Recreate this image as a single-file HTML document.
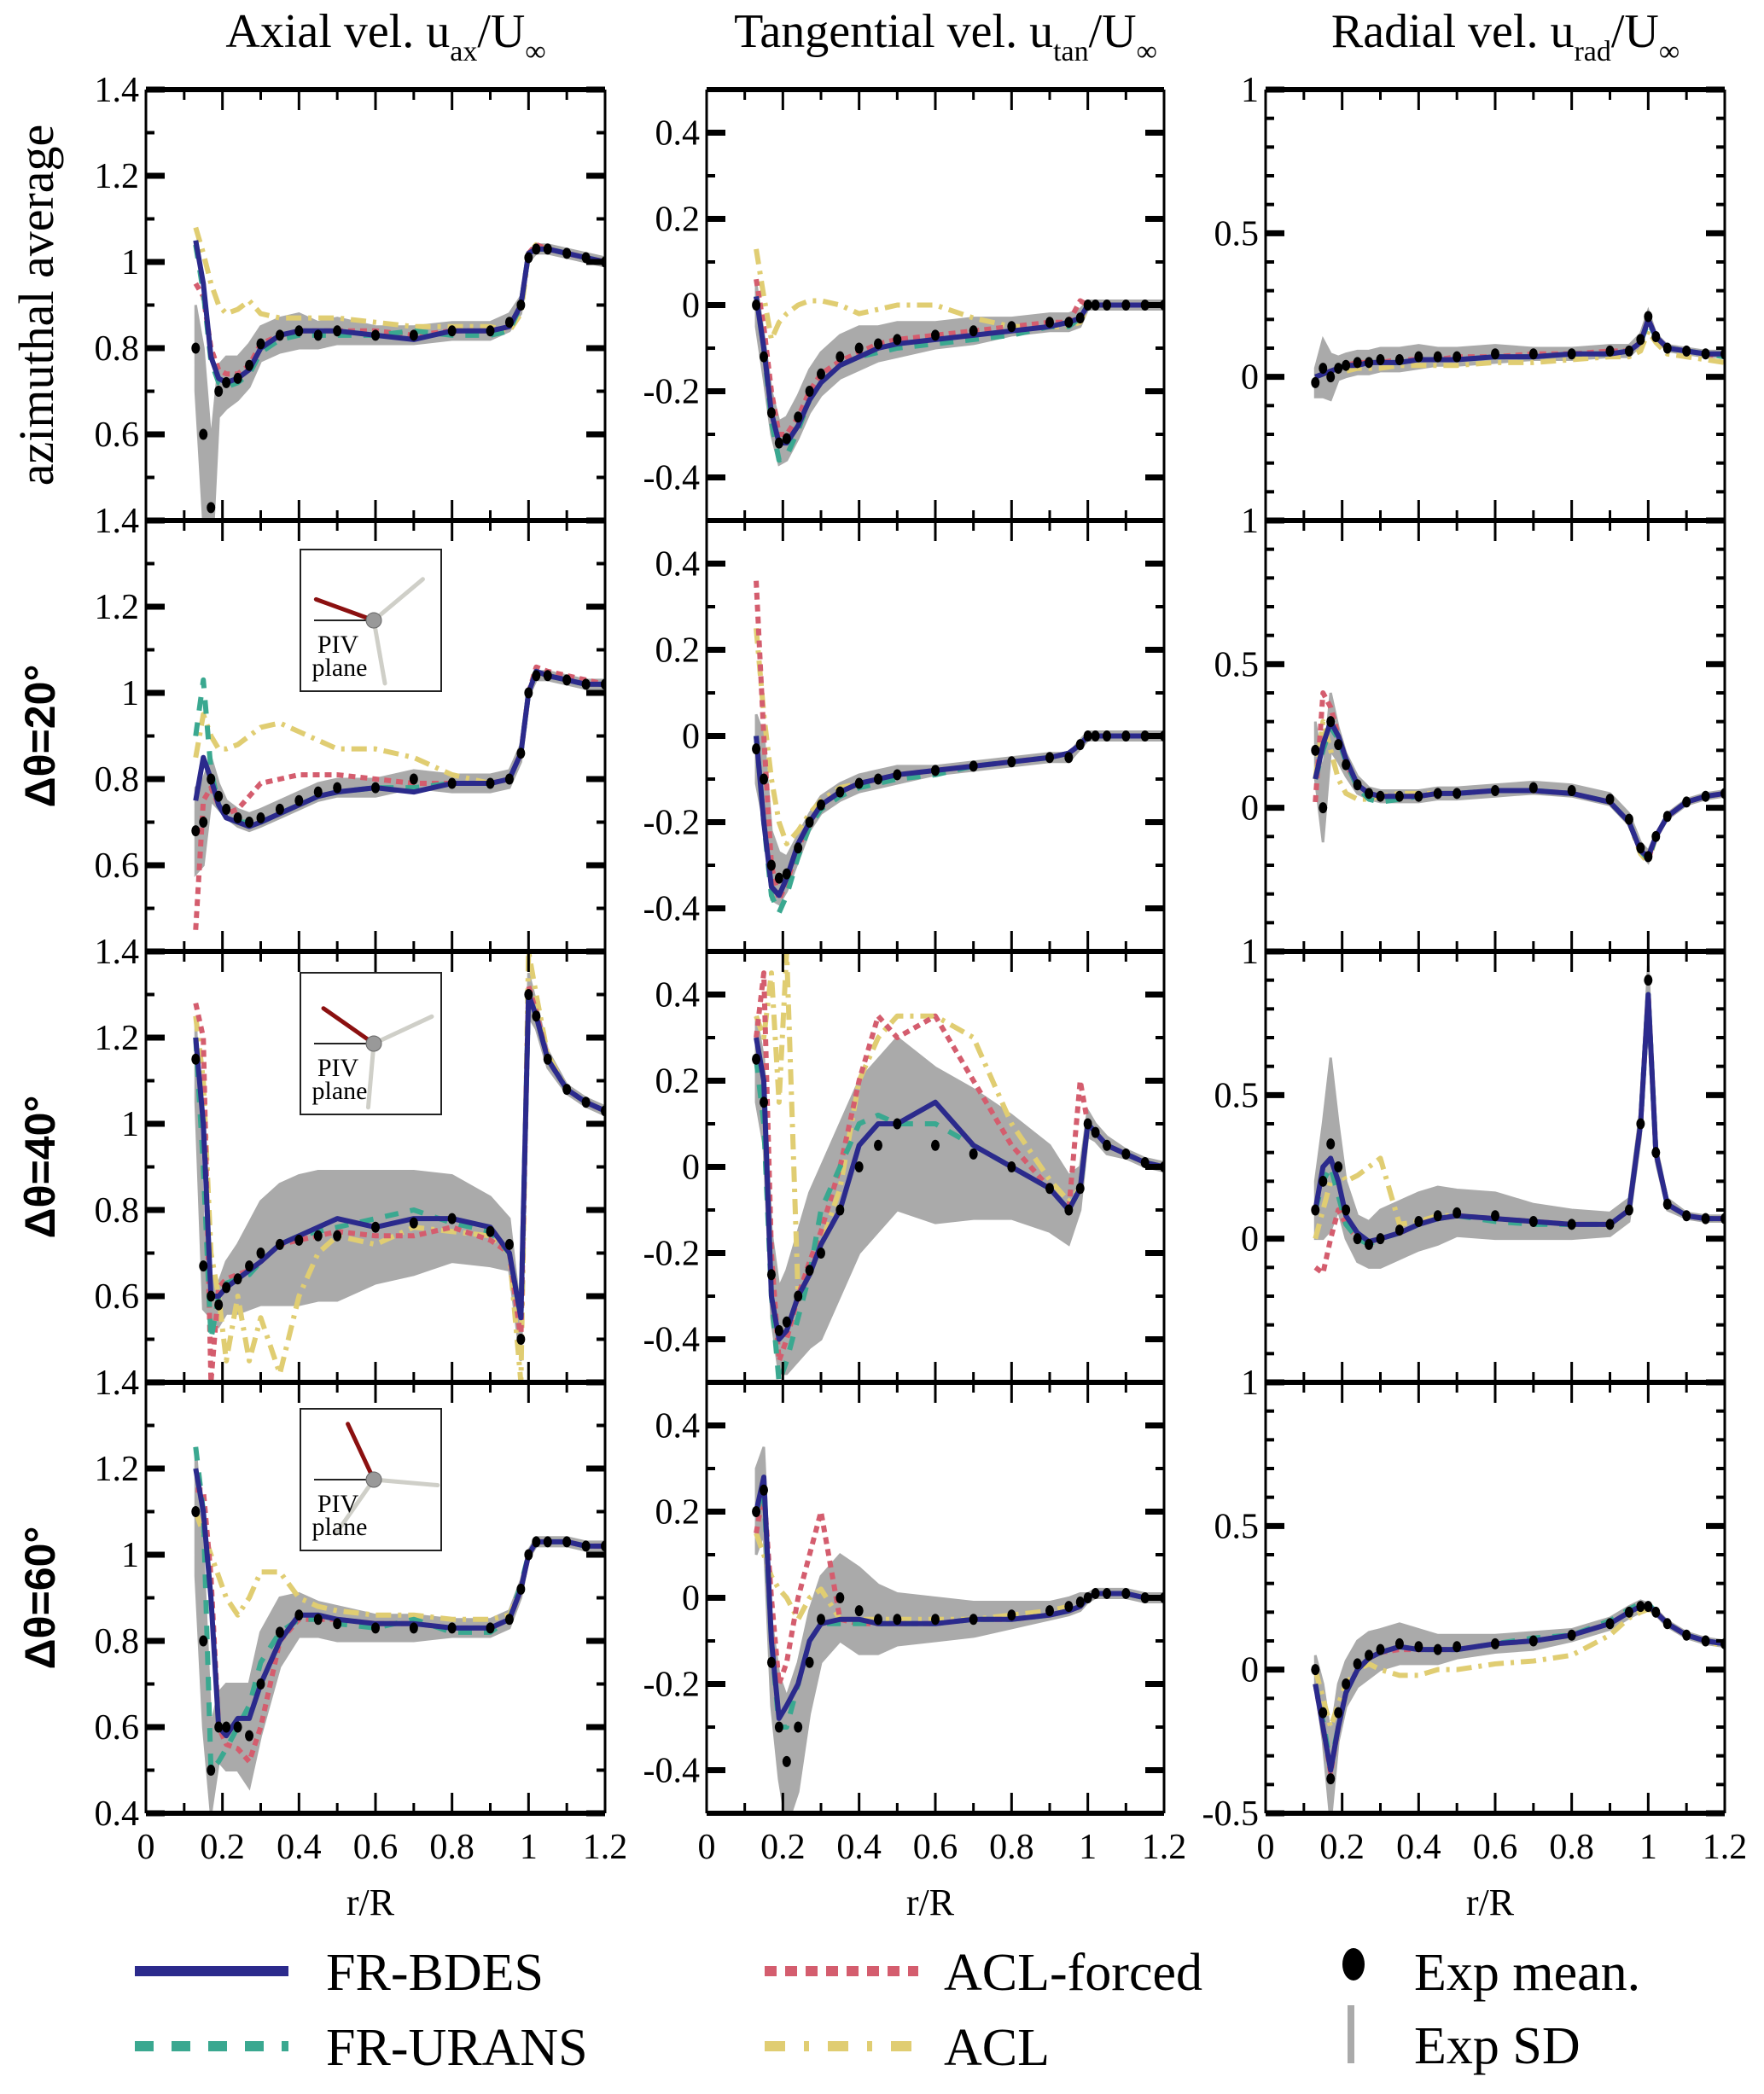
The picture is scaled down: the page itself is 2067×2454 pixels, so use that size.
<!DOCTYPE html>
<html><head><meta charset="utf-8"><style>
body{margin:0;background:#fff}
svg{display:block}
text{font-family:"Liberation Serif",serif}
</style></head><body>
<svg id="fig" xmlns="http://www.w3.org/2000/svg" width="2067" height="2454" viewBox="0 0 2067 2454"></svg>
<script>
// ---------- data ----------
const rGrid=[0.13,0.15,0.17,0.19,0.21,0.24,0.27,0.3,0.35,0.4,0.45,0.5,0.6,0.7,0.8,0.9,0.95,0.98,1.0,1.02,1.05,1.1,1.15,1.2];
const xTicks=[0,0.2,0.4,0.6,0.8,1,1.2];
const xTickLabels=["0","0.2","0.4","0.6","0.8","1","1.2"];
const axTicks=[0.4,0.6,0.8,1,1.2,1.4];
const axTickLabels=["0.4","0.6","0.8","1","1.2","1.4"];
const tanTicks=[-0.4,-0.2,0,0.2,0.4];
const tanTickLabels=["-0.4","-0.2","0","0.2","0.4"];
const radTicks=[-0.5,0,0.5,1];
const radTickLabels=["-0.5","0","0.5","1"];
const columnTitles=["Axial vel. u","Tangential vel. u","Radial vel. u"];
const columnSubs=["ax","tan","rad"];
const rowLabels=["azimuthal average","\u0394\u03b8=20\u00b0","\u0394\u03b8=40\u00b0","\u0394\u03b8=60\u00b0"];
const seriesNames=["FR-BDES","FR-URANS","ACL-forced","ACL"];

// row 1 azimuthal average
const ax1_bdes=[1.05,0.95,0.78,0.73,0.72,0.73,0.75,0.8,0.83,0.84,0.84,0.84,0.83,0.82,0.84,0.84,0.85,0.9,1.02,1.03,1.03,1.02,1.01,1.0];
const ax1_urans=[1.04,0.93,0.77,0.72,0.71,0.72,0.74,0.79,0.82,0.83,0.83,0.83,0.83,0.84,0.83,0.83,0.84,0.9,1.02,1.03,1.03,1.02,1.01,1.0];
const ax1_aclf=[0.95,0.92,0.8,0.75,0.74,0.74,0.76,0.81,0.83,0.84,0.84,0.84,0.84,0.83,0.84,0.84,0.85,0.9,1.02,1.04,1.03,1.02,1.01,1.0];
const ax1_acl=[1.08,1.02,0.95,0.9,0.88,0.89,0.91,0.88,0.87,0.87,0.87,0.87,0.86,0.85,0.85,0.85,0.84,0.88,1.02,1.04,1.03,1.02,1.01,1.0];
const ax1_exp=[0.8,0.6,0.43,0.7,0.72,0.73,0.76,0.81,0.83,0.84,0.83,0.84,0.83,0.83,0.84,0.84,0.86,0.9,1.01,1.03,1.03,1.02,1.01,1.0];
const ax1_sd=[0.1,0.2,0.15,0.06,0.06,0.05,0.05,0.04,0.04,0.04,0.03,0.03,0.02,0.02,0.02,0.02,0.02,0.02,0.01,0.01,0.01,0.01,0.01,0.01];
const tn1_bdes=[0.02,-0.1,-0.25,-0.32,-0.32,-0.28,-0.22,-0.18,-0.14,-0.12,-0.1,-0.09,-0.08,-0.07,-0.06,-0.05,-0.04,-0.03,0,0,0,0,0,0];
const tn1_urans=[0.02,-0.1,-0.27,-0.36,-0.35,-0.29,-0.22,-0.18,-0.14,-0.12,-0.11,-0.1,-0.09,-0.08,-0.07,-0.05,-0.05,-0.03,0,0,0,0,0,0];
const tn1_aclf=[0.06,-0.05,-0.2,-0.3,-0.3,-0.26,-0.2,-0.16,-0.13,-0.11,-0.09,-0.08,-0.07,-0.06,-0.05,-0.04,-0.04,0.01,0,0,0,0,0,0];
const tn1_acl=[0.13,0.02,-0.08,-0.04,-0.02,0.0,0.01,0.01,0.0,-0.02,-0.01,0.0,0.0,-0.03,-0.05,-0.05,-0.05,-0.04,0,0,0,0,0,0];
const tn1_exp=[0.0,-0.12,-0.25,-0.32,-0.31,-0.26,-0.2,-0.16,-0.12,-0.1,-0.09,-0.08,-0.07,-0.06,-0.05,-0.04,-0.04,-0.03,0,0,0,0,0,0];
const tn1_sd=[0.05,0.05,0.05,0.05,0.05,0.05,0.05,0.05,0.05,0.05,0.04,0.04,0.03,0.03,0.02,0.02,0.02,0.02,0.01,0.01,0.01,0.01,0.01,0.01];
const rd1_bdes=[0,0.01,0.02,0.03,0.04,0.04,0.05,0.05,0.05,0.06,0.06,0.06,0.07,0.07,0.08,0.08,0.09,0.12,0.2,0.14,0.1,0.09,0.08,0.08];
const rd1_urans=[0,0.01,0.02,0.03,0.04,0.04,0.05,0.05,0.05,0.06,0.06,0.06,0.07,0.07,0.08,0.08,0.09,0.12,0.19,0.14,0.1,0.09,0.08,0.07];
const rd1_aclf=[0,0.01,0.02,0.03,0.04,0.05,0.05,0.05,0.06,0.06,0.06,0.07,0.07,0.08,0.08,0.09,0.09,0.12,0.2,0.14,0.1,0.09,0.08,0.07];
const rd1_acl=[0.0,0.01,0.01,0.02,0.02,0.03,0.03,0.03,0.04,0.04,0.04,0.04,0.05,0.05,0.06,0.07,0.07,0.09,0.16,0.12,0.08,0.07,0.06,0.05];
const rd1_exp=[-0.02,0.03,0.0,0.03,0.04,0.05,0.05,0.06,0.06,0.07,0.07,0.07,0.08,0.08,0.08,0.09,0.09,0.13,0.21,0.14,0.1,0.09,0.08,0.08];
const rd1_sd=[0.05,0.1,0.08,0.04,0.04,0.04,0.04,0.04,0.04,0.04,0.03,0.03,0.03,0.02,0.02,0.02,0.02,0.02,0.02,0.01,0.01,0.01,0.01,0.01];
// row 2 dtheta=20
const ax2_bdes=[0.75,0.85,0.8,0.74,0.71,0.7,0.69,0.7,0.72,0.74,0.76,0.77,0.78,0.77,0.79,0.79,0.8,0.86,1.0,1.05,1.04,1.03,1.02,1.02];
const ax2_urans=[0.9,1.03,0.82,0.74,0.71,0.7,0.7,0.7,0.72,0.74,0.76,0.77,0.78,0.78,0.79,0.79,0.8,0.86,1.0,1.05,1.04,1.03,1.02,1.02];
const ax2_aclf=[0.45,0.75,0.78,0.74,0.72,0.73,0.76,0.79,0.8,0.81,0.81,0.81,0.8,0.79,0.79,0.79,0.8,0.86,1.0,1.06,1.05,1.04,1.03,1.02];
const ax2_acl=[0.85,0.95,0.9,0.87,0.87,0.88,0.9,0.92,0.93,0.91,0.89,0.87,0.87,0.85,0.81,0.79,0.8,0.86,1.0,1.05,1.04,1.03,1.02,1.02];
const ax2_exp=[0.68,0.7,0.8,0.76,0.73,0.71,0.7,0.71,0.73,0.75,0.77,0.78,0.78,0.8,0.79,0.79,0.8,0.86,1.0,1.04,1.04,1.03,1.02,1.02];
const ax2_sd=[0.1,0.1,0.05,0.03,0.02,0.02,0.02,0.02,0.02,0.02,0.02,0.02,0.02,0.02,0.02,0.02,0.02,0.02,0.01,0.01,0.01,0.01,0.01,0.01];
const tn2_bdes=[0.0,-0.2,-0.35,-0.37,-0.33,-0.25,-0.2,-0.16,-0.13,-0.11,-0.1,-0.09,-0.08,-0.07,-0.06,-0.05,-0.04,-0.02,0,0,0,0,0,0];
const tn2_urans=[0.0,-0.2,-0.37,-0.41,-0.37,-0.28,-0.21,-0.17,-0.14,-0.12,-0.11,-0.1,-0.09,-0.07,-0.06,-0.05,-0.04,-0.02,0,0,0,0,0,0];
const tn2_aclf=[0.36,0.0,-0.3,-0.38,-0.34,-0.26,-0.2,-0.16,-0.13,-0.11,-0.1,-0.09,-0.08,-0.07,-0.06,-0.05,-0.04,-0.02,0,0,0,0,0,0];
const tn2_acl=[0.25,0.05,-0.1,-0.2,-0.25,-0.22,-0.18,-0.15,-0.12,-0.11,-0.1,-0.09,-0.08,-0.07,-0.06,-0.05,-0.04,-0.02,0,0,0,0,0,0];
const tn2_exp=[-0.03,-0.1,-0.3,-0.33,-0.32,-0.26,-0.2,-0.16,-0.13,-0.11,-0.1,-0.09,-0.08,-0.07,-0.06,-0.05,-0.05,-0.02,0,0,0,0,0,0];
const tn2_sd=[0.08,0.1,0.08,0.06,0.04,0.03,0.02,0.02,0.02,0.02,0.02,0.02,0.01,0.01,0.01,0.01,0.01,0.01,0.01,0.01,0.01,0.01,0.01,0.01];
const rd2_bdes=[0.1,0.22,0.3,0.25,0.17,0.08,0.05,0.04,0.04,0.04,0.05,0.05,0.06,0.06,0.05,0.02,-0.05,-0.15,-0.17,-0.1,-0.03,0.02,0.04,0.05];
const rd2_urans=[0.1,0.2,0.28,0.24,0.16,0.07,0.03,0.02,0.03,0.04,0.05,0.05,0.06,0.06,0.05,0.02,-0.05,-0.15,-0.18,-0.1,-0.03,0.02,0.04,0.05];
const rd2_aclf=[0.02,0.4,0.35,0.25,0.15,0.08,0.05,0.04,0.04,0.04,0.05,0.05,0.06,0.06,0.05,0.02,-0.05,-0.15,-0.18,-0.1,-0.03,0.02,0.04,0.05];
const rd2_acl=[0.1,0.3,0.2,0.1,0.05,0.03,0.03,0.04,0.05,0.05,0.05,0.05,0.06,0.06,0.05,0.02,-0.05,-0.16,-0.19,-0.1,-0.03,0.02,0.04,0.05];
const rd2_exp=[0.2,0.0,0.3,0.22,0.15,0.08,0.05,0.04,0.04,0.04,0.05,0.05,0.06,0.07,0.06,0.03,-0.04,-0.14,-0.17,-0.1,-0.03,0.02,0.04,0.05];
const rd2_sd=[0.1,0.12,0.1,0.06,0.04,0.03,0.02,0.02,0.02,0.02,0.02,0.02,0.02,0.02,0.02,0.02,0.02,0.02,0.02,0.01,0.01,0.01,0.01,0.01];
// row 3 dtheta=40
const ax3_bdes=[1.2,1.0,0.6,0.6,0.62,0.64,0.66,0.68,0.72,0.74,0.76,0.78,0.76,0.78,0.78,0.76,0.7,0.55,1.3,1.25,1.15,1.08,1.05,1.03];
const ax3_urans=[1.2,0.9,0.5,0.6,0.63,0.64,0.65,0.68,0.72,0.74,0.75,0.76,0.78,0.8,0.77,0.75,0.7,0.55,1.3,1.25,1.15,1.08,1.05,1.03];
const ax3_aclf=[1.28,1.2,0.4,0.62,0.64,0.65,0.66,0.68,0.72,0.73,0.74,0.75,0.74,0.74,0.76,0.73,0.7,0.5,1.32,1.26,1.15,1.08,1.05,1.03];
const ax3_acl=[1.25,1.1,0.7,0.6,0.45,0.6,0.45,0.55,0.42,0.6,0.7,0.74,0.72,0.76,0.75,0.74,0.7,0.4,1.4,1.3,1.16,1.08,1.05,1.03];
const ax3_exp=[1.15,0.67,0.6,0.58,0.62,0.64,0.67,0.7,0.72,0.73,0.74,0.74,0.76,0.77,0.78,0.75,0.72,0.5,1.3,1.25,1.15,1.08,1.05,1.03];
const ax3_sd=[0.1,0.1,0.05,0.05,0.06,0.08,0.1,0.12,0.14,0.15,0.15,0.15,0.13,0.12,0.1,0.08,0.06,0.05,0.05,0.03,0.02,0.01,0.01,0.01];
const tn3_bdes=[0.3,0.2,-0.3,-0.4,-0.38,-0.3,-0.25,-0.18,-0.1,0.05,0.1,0.1,0.15,0.05,0.0,-0.05,-0.1,-0.05,0.1,0.08,0.05,0.03,0.01,0];
const tn3_urans=[0.25,0.1,-0.3,-0.5,-0.45,-0.35,-0.25,-0.1,0.0,0.1,0.12,0.1,0.1,0.05,0.0,-0.05,-0.1,-0.05,0.1,0.08,0.05,0.03,0.01,0];
const tn3_aclf=[0.3,0.45,-0.2,-0.45,-0.4,-0.3,-0.22,-0.15,0.0,0.2,0.35,0.3,0.35,0.2,0.05,-0.05,-0.1,0.2,0.1,0.08,0.05,0.03,0.01,0];
const tn3_acl=[0.35,0.3,0.45,0.15,0.5,-0.3,-0.25,-0.18,-0.05,0.2,0.3,0.35,0.35,0.3,0.1,-0.03,-0.08,-0.05,0.1,0.08,0.05,0.03,0.01,0];
const tn3_exp=[0.25,0.15,-0.25,-0.38,-0.36,-0.3,-0.24,-0.2,-0.1,0.0,0.05,0.1,0.05,0.03,0.0,-0.05,-0.1,-0.05,0.1,0.08,0.05,0.03,0.01,0];
const tn3_sd=[0.1,0.1,0.1,0.1,0.12,0.15,0.18,0.2,0.2,0.2,0.2,0.2,0.18,0.15,0.12,0.1,0.08,0.05,0.03,0.02,0.02,0.01,0.01,0.01];
const rd3_bdes=[0.1,0.25,0.28,0.2,0.08,0.02,-0.01,0.0,0.02,0.05,0.07,0.08,0.07,0.06,0.05,0.05,0.1,0.4,0.85,0.3,0.12,0.08,0.07,0.07];
const rd3_urans=[0.1,0.2,0.25,0.15,0.05,0.0,-0.02,0.0,0.02,0.05,0.07,0.08,0.06,0.05,0.05,0.05,0.1,0.4,0.85,0.3,0.12,0.08,0.07,0.07];
const rd3_aclf=[-0.1,-0.12,0.0,0.1,0.05,0.0,-0.01,0.0,0.02,0.05,0.07,0.08,0.07,0.06,0.05,0.05,0.1,0.4,0.85,0.3,0.12,0.08,0.07,0.07];
const rd3_acl=[0.0,0.1,0.2,0.25,0.2,0.22,0.25,0.28,0.05,0.06,0.08,0.08,0.07,0.06,0.05,0.05,0.1,0.4,0.85,0.3,0.12,0.08,0.07,0.07];
const rd3_exp=[0.1,0.2,0.33,0.25,0.1,0.0,-0.02,0.0,0.03,0.06,0.08,0.09,0.08,0.06,0.05,0.05,0.1,0.4,0.9,0.3,0.12,0.08,0.07,0.07];
const rd3_sd=[0.1,0.2,0.3,0.15,0.1,0.08,0.08,0.1,0.1,0.1,0.1,0.08,0.08,0.06,0.05,0.04,0.04,0.05,0.05,0.03,0.02,0.01,0.01,0.01];
// row 4 dtheta=60
const ax4_bdes=[1.2,1.1,0.9,0.6,0.58,0.62,0.62,0.7,0.8,0.86,0.86,0.85,0.84,0.84,0.83,0.83,0.85,0.92,1.0,1.03,1.03,1.03,1.02,1.02];
const ax4_urans=[1.25,1.1,0.5,0.52,0.55,0.6,0.65,0.75,0.82,0.85,0.85,0.84,0.83,0.85,0.82,0.82,0.85,0.93,1.0,1.03,1.03,1.03,1.02,1.02];
const ax4_aclf=[1.15,1.15,0.95,0.6,0.56,0.55,0.52,0.6,0.8,0.85,0.85,0.85,0.84,0.84,0.83,0.83,0.85,0.92,1.0,1.03,1.03,1.03,1.02,1.02];
const ax4_acl=[1.1,1.05,1.0,0.95,0.9,0.86,0.9,0.96,0.96,0.9,0.88,0.87,0.86,0.86,0.85,0.85,0.86,0.92,1.0,1.03,1.03,1.03,1.02,1.02];
const ax4_exp=[1.1,0.8,0.5,0.6,0.6,0.6,0.58,0.7,0.82,0.86,0.85,0.84,0.83,0.83,0.83,0.83,0.85,0.92,1.0,1.03,1.03,1.03,1.02,1.02];
const ax4_sd=[0.15,0.2,0.1,0.08,0.1,0.1,0.12,0.12,0.08,0.05,0.04,0.04,0.03,0.03,0.02,0.02,0.02,0.02,0.01,0.01,0.01,0.01,0.01,0.01];
const tn4_bdes=[0.2,0.28,-0.1,-0.28,-0.25,-0.2,-0.1,-0.06,-0.05,-0.05,-0.06,-0.06,-0.06,-0.05,-0.05,-0.04,-0.03,-0.02,0,0.01,0.01,0.01,0,0];
const tn4_urans=[0.2,0.25,-0.1,-0.3,-0.3,-0.2,-0.1,-0.06,-0.06,-0.06,-0.06,-0.06,-0.06,-0.05,-0.05,-0.04,-0.03,-0.02,0,0.01,0.01,0.01,0,0];
const tn4_aclf=[0.15,0.25,0.0,-0.2,-0.15,0.0,0.1,0.2,-0.05,-0.06,-0.06,-0.06,-0.06,-0.05,-0.05,-0.04,-0.03,-0.02,0,0.01,0.01,0.01,0,0];
const tn4_acl=[0.15,0.1,0.05,0.02,0.0,-0.05,0.0,0.02,-0.05,-0.05,-0.05,-0.05,-0.05,-0.05,-0.04,-0.03,-0.02,-0.01,0,0.01,0.01,0.01,0,0];
const tn4_exp=[0.2,0.25,-0.15,-0.3,-0.38,-0.3,-0.15,-0.05,0.0,-0.03,-0.05,-0.05,-0.05,-0.05,-0.04,-0.03,-0.02,-0.01,0,0.01,0.01,0.01,0,0];
const tn4_sd=[0.1,0.1,0.1,0.12,0.15,0.15,0.12,0.1,0.1,0.1,0.08,0.06,0.05,0.04,0.03,0.02,0.02,0.02,0.01,0.01,0.01,0.01,0.01,0.01];
const rd4_bdes=[-0.05,-0.2,-0.35,-0.2,-0.08,0.0,0.04,0.06,0.08,0.07,0.07,0.07,0.09,0.1,0.12,0.16,0.2,0.22,0.22,0.2,0.16,0.12,0.1,0.09];
const rd4_urans=[-0.05,-0.18,-0.33,-0.2,-0.08,0.0,0.04,0.06,0.08,0.07,0.07,0.07,0.09,0.11,0.12,0.17,0.21,0.23,0.23,0.2,0.16,0.12,0.1,0.09];
const rd4_aclf=[-0.05,-0.2,-0.36,-0.2,-0.08,0.0,0.04,0.06,0.07,0.07,0.07,0.07,0.09,0.1,0.12,0.16,0.2,0.22,0.22,0.2,0.16,0.12,0.1,0.09];
const rd4_acl=[0.0,-0.1,-0.2,-0.12,-0.05,0.0,0.02,0.0,-0.02,-0.02,0.0,0.0,0.02,0.03,0.05,0.12,0.18,0.2,0.21,0.2,0.16,0.12,0.1,0.08];
const rd4_exp=[0.0,-0.15,-0.38,-0.15,-0.05,0.02,0.05,0.07,0.09,0.08,0.07,0.08,0.09,0.1,0.12,0.16,0.2,0.22,0.22,0.2,0.16,0.12,0.1,0.09];
const rd4_sd=[0.05,0.1,0.15,0.1,0.08,0.08,0.08,0.07,0.07,0.06,0.05,0.04,0.03,0.03,0.02,0.02,0.02,0.02,0.01,0.01,0.01,0.01,0.01,0.01];

// ---------- rendering ----------
const NS="http://www.w3.org/2000/svg";
const svg=document.getElementById('fig');
function mk(tag,attrs,parent){const e=document.createElementNS(NS,tag);for(const k in attrs)e.setAttribute(k,attrs[k]);(parent||svg).appendChild(e);return e;}
const colX=[[171,709],[828,1364],[1483,2021]];
const rowY0=105,rowH=505;
const colors={bdes:"#2b2a8c",urans:"#3aa890",aclf:"#d45d6e",acl:"#e0cd72"};
const yRanges=[[0.4,1.4],[-0.5,0.5],[-0.5,1]];
const ticksByCol=[[axTicks,axTickLabels],[tanTicks,tanTickLabels],[radTicks,radTickLabels]];
const rows=[
 [[ax1_bdes,ax1_urans,ax1_aclf,ax1_acl,ax1_exp,ax1_sd],[tn1_bdes,tn1_urans,tn1_aclf,tn1_acl,tn1_exp,tn1_sd],[rd1_bdes,rd1_urans,rd1_aclf,rd1_acl,rd1_exp,rd1_sd]],
 [[ax2_bdes,ax2_urans,ax2_aclf,ax2_acl,ax2_exp,ax2_sd],[tn2_bdes,tn2_urans,tn2_aclf,tn2_acl,tn2_exp,tn2_sd],[rd2_bdes,rd2_urans,rd2_aclf,rd2_acl,rd2_exp,rd2_sd]],
 [[ax3_bdes,ax3_urans,ax3_aclf,ax3_acl,ax3_exp,ax3_sd],[tn3_bdes,tn3_urans,tn3_aclf,tn3_acl,tn3_exp,tn3_sd],[rd3_bdes,rd3_urans,rd3_aclf,rd3_acl,rd3_exp,rd3_sd]],
 [[ax4_bdes,ax4_urans,ax4_aclf,ax4_acl,ax4_exp,ax4_sd],[tn4_bdes,tn4_urans,tn4_aclf,tn4_acl,tn4_exp,tn4_sd],[rd4_bdes,rd4_urans,rd4_aclf,rd4_acl,rd4_exp,rd4_sd]]
];
const defs=mk('defs',{});

// column titles
for(let c=0;c<3;c++){
  const cx=(colX[c][0]+colX[c][1])/2+12;
  const t=mk('text',{x:cx,y:55,'font-size':56,'text-anchor':'middle'});
  
  
  t.innerHTML=columnTitles[c]+'<tspan font-size="34" dy="16">'+columnSubs[c]+'</tspan><tspan dy="-16">/U</tspan><tspan font-size="34" dy="16">\u221e</tspan>';
}
// row labels
for(let r=0;r<4;r++){
  const cy=rowY0+r*rowH+rowH/2;
  const t=mk('text',{x:0,y:0,'font-size':r===0?58:50,'text-anchor':'middle',transform:`translate(${r===0?62:64},${cy}) rotate(-90)`});
  if(r>0){t.setAttribute('style','font-family:"Liberation Sans",sans-serif;font-weight:bold');}
  
  
  t.textContent=rowLabels[r];
}

for(let r=0;r<4;r++)for(let c=0;c<3;c++){
  const [x0,x1]=colX[c];const y0=rowY0+r*rowH,y1=y0+rowH;
  const [ymin,ymax]=yRanges[c];
  const X=v=>x0+(v-0)/(1.2-0)*(x1-x0);
  const Y=v=>y1-(v-ymin)/(ymax-ymin)*(y1-y0);
  const g=mk('g',{});
  
  
  const cid='clip'+r+c;
  const cp=mk('clipPath',{id:cid},defs);mk('rect',{x:x0,y:y0,width:x1-x0,height:y1-y0},cp);
  const pg=mk('g',{'clip-path':`url(#${cid})`},g);
  const d=rows[r][c];
  let up=rGrid.map((rv,i)=>X(rv)+','+Y(d[4][i]+d[5][i]));
  let lo=rGrid.map((rv,i)=>X(rv)+','+Y(d[4][i]-d[5][i])).reverse();
  const band=mk('polygon',{points:up.concat(lo).join(' '),fill:'#aaaaaa',stroke:'#aaaaaa','stroke-width':3},pg);
  
  
  const styles=[
    ['bdes',{stroke:colors.bdes,'stroke-width':6}],
    ['urans',{stroke:colors.urans,'stroke-width':6,'stroke-dasharray':'16 14'}],
    ['aclf',{stroke:colors.aclf,'stroke-width':6,'stroke-dasharray':'8 6'}],
    ['acl',{stroke:colors.acl,'stroke-width':6,'stroke-dasharray':'18 8 4 8'}]];
  [3,2,1,0].forEach(k=>{
    const pts=rGrid.map((rv,i)=>X(rv)+','+Y(d[k][i])).join(' ');
    const pl=mk('polyline',Object.assign({points:pts,fill:'none','stroke-linejoin':'round'},styles[k][1]),pg);
    
    
  });
  rGrid.forEach((rv,i)=>{
    const dot=mk('ellipse',{cx:X(rv),cy:Y(d[4][i]),rx:5,ry:6.5,fill:'#000'},pg);
    
    
  });
  mk('line',{x1:x0,y1:y0,x2:x1,y2:y0,stroke:'#000','stroke-width':6},g);
  mk('line',{x1:x0,y1:y1,x2:x1,y2:y1,stroke:'#000','stroke-width':6},g);
  mk('line',{x1:x0,y1:y0,x2:x0,y2:y1,stroke:'#000','stroke-width':3},g);
  mk('line',{x1:x1,y1:y0,x2:x1,y2:y1,stroke:'#000','stroke-width':3},g);
  for(let k=0;k<=12;k++){
    const v=k*0.1,len=(k%2===0)?24:12,xx=X(v);
    mk('line',{x1:xx,y1:y0,x2:xx,y2:y0+len,stroke:'#000','stroke-width':3},g);
    mk('line',{x1:xx,y1:y1,x2:xx,y2:y1-len,stroke:'#000','stroke-width':3},g);
  }
  const [tv,tl]=ticksByCol[c];
  for(let v=ymin;v<=ymax+1e-9;v+=0.1){
    const yy=Y(v);
    mk('line',{x1:x0,y1:yy,x2:x0+10,y2:yy,stroke:'#000','stroke-width':4},g);
    mk('line',{x1:x1,y1:yy,x2:x1-10,y2:yy,stroke:'#000','stroke-width':4},g);
  }
  tv.forEach((v,i)=>{
    const yy=Y(v);
    mk('line',{x1:x0,y1:yy,x2:x0+22,y2:yy,stroke:'#000','stroke-width':7},g);
    mk('line',{x1:x1,y1:yy,x2:x1-22,y2:yy,stroke:'#000','stroke-width':7},g);
    if(r<3&&c!==1&&i===0&&v===ymin)return;
    const t=mk('text',{x:x0-8,y:yy+14,'font-size':42,'text-anchor':'end'},g);
    
    
    t.textContent=tl[i];
  });
  if(r===3){
    xTicks.forEach((v,i)=>{
      const t=mk('text',{x:X(v),y:2178,'font-size':42,'text-anchor':'middle'},g);
      
      
      t.textContent=xTickLabels[i];
    });
    const xl=mk('text',{x:(x0+x1)/2-6,y:2244,'font-size':44,'text-anchor':'middle'},g);
    
    
    xl.textContent='r/R';
  }
}
// insets (PIV plane)
const insetY=[644,1140,1651];const redAng=[-160,-145,-115];
insetY.forEach((iy,k)=>{
  const g=mk('g',{});
  
  
  mk('rect',{x:352,y:iy,width:165,height:166,fill:'#fff',stroke:'#222','stroke-width':2},g);
  const hx=438,hy=iy+83;
  mk('line',{x1:368,y1:hy,x2:hx,y2:hy,stroke:'#222','stroke-width':2},g);
  const a=redAng[k]*Math.PI/180;
  [a+2*Math.PI/3,a+4*Math.PI/3].forEach(b=>{
    mk('line',{x1:hx,y1:hy,x2:hx+75*Math.cos(b),y2:hy+75*Math.sin(b),stroke:'#cfcfc8','stroke-width':5,'stroke-linecap':'round'},g);
  });
  mk('line',{x1:hx,y1:hy,x2:hx+72*Math.cos(a),y2:hy+72*Math.sin(a),stroke:'#8b1010','stroke-width':5,'stroke-linecap':'round'},g);
  mk('circle',{cx:hx,cy:hy,r:9,fill:'#999',stroke:'#666','stroke-width':1},g);
  const t1=mk('text',{x:396,y:hy+38,'font-size':30,'text-anchor':'middle'},g);t1.textContent='PIV';
  const t2=mk('text',{x:398,y:hy+65,'font-size':30,'text-anchor':'middle'},g);t2.textContent='plane';
});
// legend
const leg=mk('g',{});


const legItems=[
 {x:158,y:2310,off:224,name:'FR-BDES',st:{stroke:colors.bdes,'stroke-width':12}},
 {x:158,y:2398,off:224,name:'FR-URANS',st:{stroke:colors.urans,'stroke-width':12,'stroke-dasharray':'22 21'}},
 {x:896,y:2310,off:210,name:'ACL-forced',st:{stroke:colors.aclf,'stroke-width':12,'stroke-dasharray':'14 10'}},
 {x:896,y:2398,off:210,name:'ACL',st:{stroke:colors.acl,'stroke-width':12,'stroke-dasharray':'24 22 6 22'}}];
legItems.forEach(it=>{
  const e=mk('g',{},leg);
  
  
  mk('line',Object.assign({x1:it.x,y1:it.y,x2:it.x+180,y2:it.y},it.st),e);
  const t=mk('text',{x:it.x+it.off,y:it.y+22,'font-size':62},e);t.textContent=it.name;
});
const e1=mk('g',{},leg);


mk('ellipse',{cx:1586,cy:2302,rx:13,ry:19,fill:'#000'},e1);
const t1=mk('text',{x:1657,y:2332,'font-size':62},e1);t1.textContent='Exp mean.';
const e2=mk('g',{},leg);


mk('line',{x1:1583,y1:2350,x2:1583,y2:2418,stroke:'#aaaaaa','stroke-width':8},e2);
const t2=mk('text',{x:1657,y:2418,'font-size':62},e2);t2.textContent='Exp SD';
</script>
</body></html>
